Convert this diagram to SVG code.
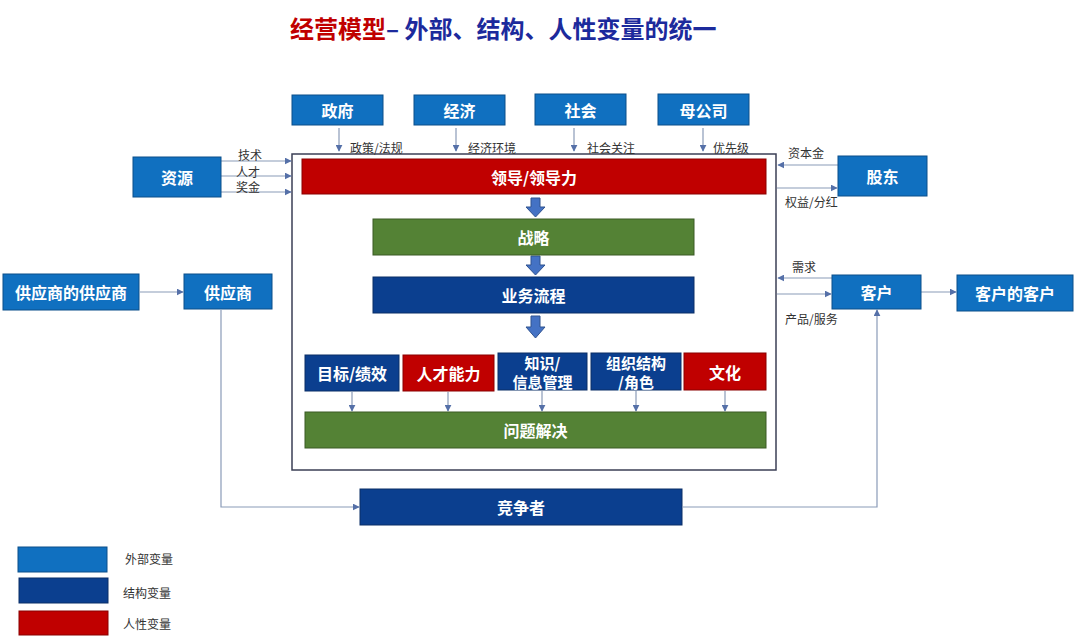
<svg xmlns="http://www.w3.org/2000/svg" width="1080" height="639" viewBox="0 0 1080 639">
<defs>
<marker id="ah" viewBox="0 0 10 10" refX="9" refY="5" markerWidth="7" markerHeight="7" orient="auto" markerUnits="userSpaceOnUse">
<path d="M0,0 L10,5 L0,10 z" fill="#5570a8"/>
</marker>
</defs>
<style>
text{font-family:"Noto Sans CJK SC","Noto Sans",sans-serif;}
.ext{fill:#1070c0;stroke:#0b4f8a;stroke-width:1;}
.str{fill:#0b3f8f;stroke:#0a2e66;stroke-width:1;}
.hum{fill:#c00000;stroke:#8a0000;stroke-width:1;}
.grn{fill:#548235;stroke:#3a5a24;stroke-width:1;}
.nt{fill:#fff;font-size:16px;font-weight:bold;text-anchor:middle;dominant-baseline:central;}
.nt2{fill:#fff;font-size:15px;font-weight:bold;text-anchor:middle;dominant-baseline:central;}
.lbl{fill:#333;font-size:12px;dominant-baseline:central;}
.ln{stroke:#8a9bb8;stroke-width:1.2;fill:none;}
.la{stroke:#8a9bb8;stroke-width:1.2;fill:none;marker-end:url(#ah);}
.blk{fill:#4472c4;stroke:#2f528f;stroke-width:1;}
</style>
<rect width="1080" height="639" fill="#fff"/>
<text x="290" y="27" font-size="24" font-weight="bold" dominant-baseline="central"><tspan fill="#c00000">经营模型</tspan><tspan fill="#1c2a9c">– 外部、结构、人性变量的统一</tspan></text>

<g id="frame"><rect x="292" y="154" width="484" height="316" fill="#fff" stroke="#3b3f55" stroke-width="1.5"/></g>

<g id="connectors">
<line class="la" x1="339" y1="128" x2="339" y2="151"/>
<line class="la" x1="456" y1="128" x2="456" y2="151"/>
<line class="la" x1="574" y1="128" x2="574" y2="151"/>
<line class="la" x1="703" y1="128" x2="703" y2="151"/>
<line class="la" x1="221" y1="161" x2="291" y2="161"/>
<line class="la" x1="221" y1="176" x2="291" y2="176"/>
<line class="la" x1="221" y1="192" x2="291" y2="192"/>
<line class="la" x1="838" y1="165" x2="778" y2="165"/>
<line class="la" x1="777" y1="188" x2="837" y2="188"/>
<line class="la" x1="832" y1="278" x2="778" y2="278"/>
<line class="la" x1="777" y1="294" x2="831" y2="294"/>
<line class="la" x1="921" y1="292" x2="956" y2="292"/>
<line class="la" x1="140" y1="292" x2="183" y2="292"/>
<path class="la" d="M221 310 V507 H359"/>
<path class="la" d="M683 507 H877 V310"/>
<line class="la" x1="352" y1="392" x2="352" y2="411"/>
<line class="la" x1="448" y1="392" x2="448" y2="411"/>
<line class="la" x1="542" y1="391" x2="542" y2="411"/>
<line class="la" x1="636" y1="391" x2="636" y2="411"/>
<line class="la" x1="725" y1="391" x2="725" y2="411"/>
<path class="blk" d="M531 198 H540 V207 H545 L535.5 217 L526 207 H531 Z"/>
<path class="blk" d="M531 256 H540 V265 H545 L535.5 275 L526 265 H531 Z"/>
<path class="blk" d="M531 316 H540 V327 H545 L535.5 338 L526 327 H531 Z"/>
<text class="lbl" x="350" y="147">政策/法规</text>
<text class="lbl" x="468" y="147">经济环境</text>
<text class="lbl" x="587" y="147">社会关注</text>
<text class="lbl" x="713" y="147">优先级</text>
<text class="lbl" x="238" y="154">技术</text>
<text class="lbl" x="236" y="171">人才</text>
<text class="lbl" x="236" y="186">奖金</text>
<text class="lbl" x="788" y="152">资本金</text>
<text class="lbl" x="785" y="201">权益/分红</text>
<text class="lbl" x="792" y="266">需求</text>
<text class="lbl" x="785" y="318">产品/服务</text>
</g>

<g id="n-zhengfu"><rect class="ext" x="292" y="95" width="91" height="30"/><text class="nt" x="337.5" y="110">政府</text></g>
<g id="n-jingji"><rect class="ext" x="414" y="95" width="91" height="30"/><text class="nt" x="459.5" y="110">经济</text></g>
<g id="n-shehui"><rect class="ext" x="535" y="94" width="91" height="31"/><text class="nt" x="580.5" y="109.5">社会</text></g>
<g id="n-mugongsi"><rect class="ext" x="658" y="94" width="91" height="31"/><text class="nt" x="703.5" y="109.5">母公司</text></g>
<g id="n-ziyuan"><rect class="ext" x="133" y="157" width="88" height="40"/><text class="nt" x="177" y="177">资源</text></g>
<g id="n-gudong"><rect class="ext" x="838" y="156" width="89" height="40"/><text class="nt" x="882.5" y="176">股东</text></g>
<g id="n-gysgys"><rect class="ext" x="3" y="274" width="136" height="36"/><text class="nt" x="71" y="292">供应商的供应商</text></g>
<g id="n-gys"><rect class="ext" x="184" y="274" width="88" height="35"/><text class="nt" x="228" y="291.5">供应商</text></g>
<g id="n-kehu"><rect class="ext" x="832" y="275" width="89" height="34"/><text class="nt" x="876.5" y="292">客户</text></g>
<g id="n-khkh"><rect class="ext" x="957" y="275" width="116" height="36"/><text class="nt" x="1015" y="293">客户的客户</text></g>

<g id="n-lingdao"><rect class="hum" x="302" y="159" width="464" height="35"/><text class="nt" x="534" y="176.5">领导/领导力</text></g>
<g id="n-zhanlue"><rect class="grn" x="373" y="219" width="321" height="36"/><text class="nt" x="533.5" y="237">战略</text></g>
<g id="n-yewu"><rect class="str" x="373" y="277" width="321" height="36"/><text class="nt" x="533.5" y="295">业务流程</text></g>
<g id="n-mubiao"><rect class="str" x="305" y="355" width="94" height="36"/><text class="nt" x="352" y="373">目标/绩效</text></g>
<g id="n-rencai"><rect class="hum" x="403" y="355" width="91" height="36"/><text class="nt" x="448.5" y="373">人才能力</text></g>
<g id="n-zhishi"><rect class="str" x="498" y="353" width="89" height="37"/><text class="nt2" x="542.5" y="362">知识/</text><text class="nt2" x="542.5" y="381">信息管理</text></g>
<g id="n-zuzhi"><rect class="str" x="591" y="353" width="90" height="37"/><text class="nt2" x="636" y="362">组织结构</text><text class="nt2" x="636" y="381">/角色</text></g>
<g id="n-wenhua"><rect class="hum" x="684" y="353" width="82" height="37"/><text class="nt" x="725" y="371.5">文化</text></g>
<g id="n-wenti"><rect class="grn" x="305" y="412" width="461" height="36"/><text class="nt" x="535.5" y="430">问题解决</text></g>
<g id="n-jingzheng"><rect class="str" x="360" y="489" width="322" height="36"/><text class="nt" x="521" y="507">竞争者</text></g>

<g id="legend">
<rect class="ext" x="18" y="547" width="89" height="25"/>
<rect class="str" x="19" y="578" width="89" height="25"/>
<rect class="hum" x="19" y="611" width="89" height="24"/>
<text class="lbl" x="125" y="558">外部变量</text>
<text class="lbl" x="123" y="592">结构变量</text>
<text class="lbl" x="123" y="623">人性变量</text>
</g>
</svg>
